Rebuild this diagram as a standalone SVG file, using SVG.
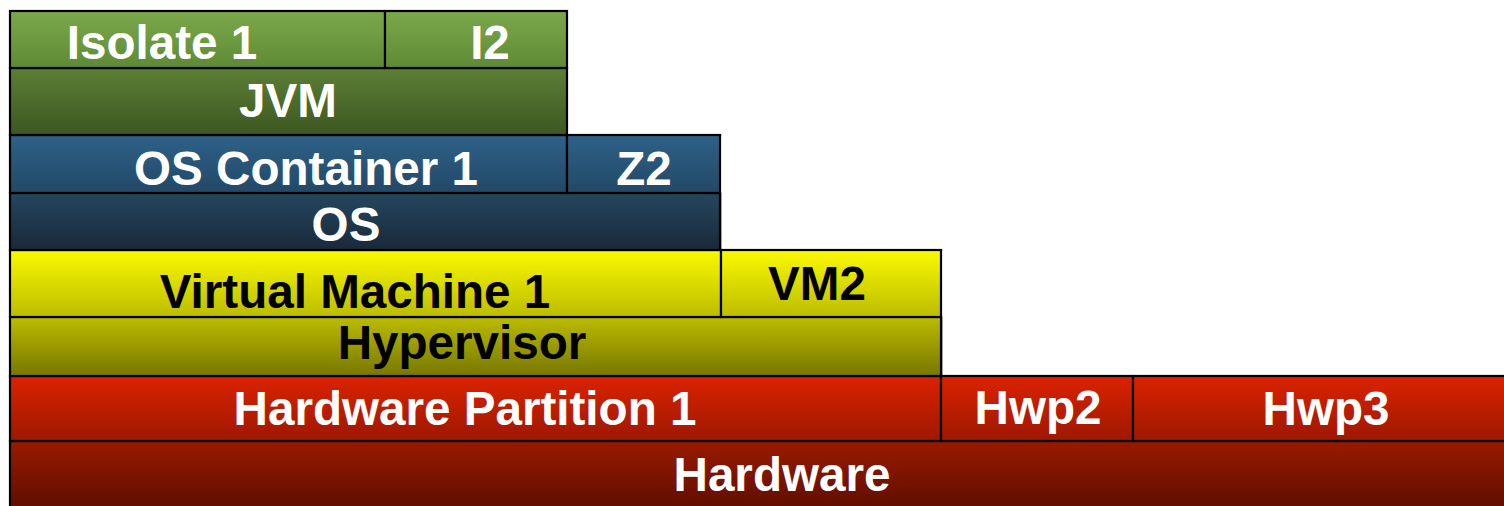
<svg xmlns="http://www.w3.org/2000/svg" width="1504" height="506" viewBox="0 0 1504 506">
<defs>
<linearGradient id="gIso" x1="0" y1="0" x2="0" y2="1"><stop offset="0" stop-color="#7ba84b"/><stop offset="1" stop-color="#5f8a35"/></linearGradient>
<linearGradient id="gJvm" x1="0" y1="0" x2="0" y2="1"><stop offset="0" stop-color="#5c7f35"/><stop offset="1" stop-color="#3d5721"/></linearGradient>
<linearGradient id="gCont" x1="0" y1="0" x2="0" y2="1"><stop offset="0" stop-color="#2e6189"/><stop offset="1" stop-color="#234866"/></linearGradient>
<linearGradient id="gOs" x1="0" y1="0" x2="0" y2="1"><stop offset="0" stop-color="#25465f"/><stop offset="1" stop-color="#19293a"/></linearGradient>
<linearGradient id="gVm" x1="0" y1="0" x2="0" y2="1"><stop offset="0" stop-color="#fafa00"/><stop offset="1" stop-color="#bcbc00"/></linearGradient>
<linearGradient id="gHyp" x1="0" y1="0" x2="0" y2="1"><stop offset="0" stop-color="#bcbc00"/><stop offset="1" stop-color="#777700"/></linearGradient>
<linearGradient id="gHwp" x1="0" y1="0" x2="0" y2="1"><stop offset="0" stop-color="#dc2200"/><stop offset="1" stop-color="#9c1800"/></linearGradient>
<linearGradient id="gHw" x1="0" y1="0" x2="0" y2="1"><stop offset="0" stop-color="#9a1a00"/><stop offset="1" stop-color="#5e0d00"/></linearGradient>
</defs>
<style>
rect{stroke:#000;stroke-width:2.2}
text{font-family:"Liberation Sans",Arial,sans-serif;font-weight:bold;font-size:47.6px;text-anchor:middle}
.w{fill:#fff}
.k{fill:#000}
.sh{stroke:#9a9a9a;stroke-width:1.5;fill:none}
</style>
<g id="shadows">
<path class="sh" d="M568 135.5H721.5M721 193V250.5H942.5M942 317V376.5H1504"/>
</g>
<g id="hardware"><rect x="10" y="441" width="1500" height="70" fill="url(#gHw)"/><text class="w" x="782" y="491">Hardware</text></g>
<g id="hwp1"><rect x="10" y="376" width="931" height="65" fill="url(#gHwp)"/><text class="w" x="465" y="425">Hardware Partition 1</text></g>
<g id="hwp2"><rect x="941" y="376" width="192" height="65" fill="url(#gHwp)"/><text class="w" x="1038" y="424">Hwp2</text></g>
<g id="hwp3"><rect x="1133" y="376" width="380" height="65" fill="url(#gHwp)"/><text class="w" x="1326" y="425">Hwp3</text></g>
<g id="hypervisor"><rect x="10" y="317" width="931" height="59" fill="url(#gHyp)"/><text class="k" x="462" y="359">Hypervisor</text></g>
<g id="vm1"><rect x="10" y="250" width="711" height="67" fill="url(#gVm)"/><text class="k" x="355" y="308">Virtual Machine 1</text></g>
<g id="vm2"><rect x="721" y="250" width="220" height="67" fill="url(#gVm)"/><text class="k" x="817" y="300">VM2</text></g>
<g id="os"><rect x="10" y="193" width="710" height="57" fill="url(#gOs)"/><text class="w" x="346" y="241">OS</text></g>
<g id="container1"><rect x="10" y="135" width="557" height="58" fill="url(#gCont)"/><text class="w" x="306" y="185">OS Container 1</text></g>
<g id="z2"><rect x="567" y="135" width="153" height="58" fill="url(#gCont)"/><text class="w" x="644" y="185">Z2</text></g>
<g id="jvm"><rect x="10" y="68" width="557" height="67" fill="url(#gJvm)"/><text class="w" x="288" y="117">JVM</text></g>
<g id="isolate1"><rect x="10" y="11" width="375" height="57" fill="url(#gIso)"/><text class="w" x="162" y="59">Isolate 1</text></g>
<g id="i2"><rect x="385" y="11" width="182" height="57" fill="url(#gIso)"/><text class="w" x="490" y="59">I2</text></g>
</svg>
